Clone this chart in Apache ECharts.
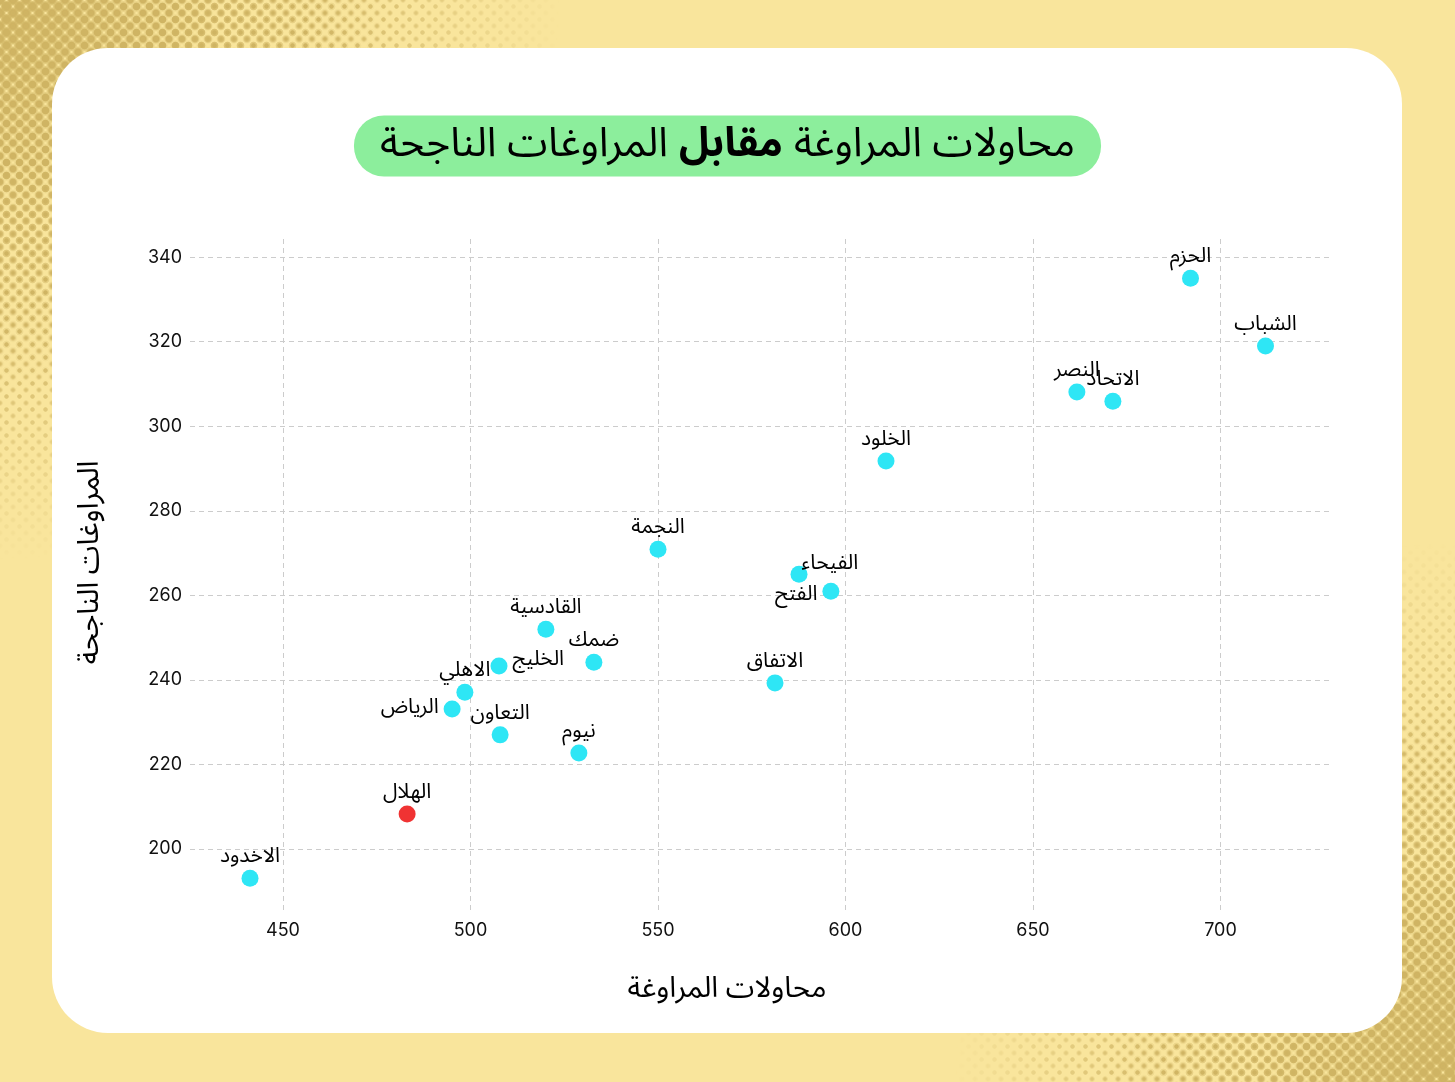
<!DOCTYPE html>
<html>
<head>
<meta charset="utf-8">
<script src="https://cdn.jsdelivr.net/npm/echarts@6/dist/echarts.min.js"></script>
<style>
  html, body { margin:0; padding:0; width:1455px; height:1082px; overflow:hidden; background:#F9E59C; }
  .ht { position:absolute; left:0; top:0; width:1455px; height:1082px; }
  .card { position:absolute; left:52px; top:48px; width:1350px; height:985px; background:#fff; border-radius:56px; }
  #chart { position:absolute; left:0; top:0; width:1455px; height:1082px; }
</style>
</head>
<body>
<div class="ht" id="h1"></div>
<div class="ht" id="h2"></div>
<div class="ht" id="h3"></div>
<div class="ht" id="h4"></div>
<div class="ht" id="h5"></div>
<div class="ht" id="h6"></div>
<div class="card"></div>
<div id="chart"></div>
<script>
// ---- data ----
const teams = ['الحزم','الشباب','النصر','الاتحاد','الخلود','النجمة','الفيحاء','الفتح','القادسية','ضمك','الخليج','الاهلي','الرياض','التعاون','نيوم','الاتفاق','الهلال','الاخدود'];
const dribbleAttempts = [692, 712, 661.7, 671.3, 610.8, 550, 587.6, 596.1, 520.1, 532.9, 507.6, 498.5, 495.1, 507.9, 528.9, 581.2, 483.1, 441.2];
const successfulDribbles = [335, 319, 308.1, 305.9, 291.8, 270.9, 265, 261, 252, 244.2, 243.3, 237.1, 233.1, 227, 222.7, 239.3, 208.3, 193.1];
const highlightTeam = 'الهلال';
const titleParts = ['محاولات المراوغة', 'مقابل', 'المراوغات الناجحة'];
const xAxisName = 'محاولات المراوغة';
const yAxisName = 'المراوغات الناجحة';

// ---- halftone background ----
function halftone(id, r, cx, cy, rx, ry, inner, outer) {
  const el = document.getElementById(id);
  const dot = `radial-gradient(circle, #CFB463 ${r}px, rgba(207,180,99,0) ${r + 0.8}px)`;
  el.style.backgroundImage = dot + ',' + dot;
  el.style.backgroundSize = '13px 13px, 13px 13px';
  el.style.backgroundPosition = '0 0, 6.5px 6.5px';
  const m = `radial-gradient(ellipse ${rx}px ${ry}px at ${cx}px ${cy}px, #000 ${inner}%, rgba(0,0,0,0) ${outer}%)`;
  el.style.webkitMaskImage = m;
  el.style.maskImage = m;
}
halftone('h1', 4.8, 0, 0, 560, 560, 0, 40);
halftone('h2', 3.4, 0, 0, 560, 560, 30, 70);
halftone('h3', 1.8, 0, 0, 560, 560, 55, 100);
halftone('h4', 4.8, 1455, 1082, 500, 540, 0, 40);
halftone('h5', 3.4, 1455, 1082, 500, 540, 30, 70);
halftone('h6', 1.8, 1455, 1082, 500, 540, 55, 100);

// ---- label placement (layout, not data) ----
const labelLayout = {
  'الفيحاء': { position: 'right', distance: 0, offset: [-6, -8] },
  'الفتح': { position: 'left', distance: 5, offset: [0, 6] },
  'الخليج': { position: 'right', distance: 5, offset: [0, -4] },
  'الرياض': { position: 'left', distance: 5, offset: [0, 1] }
};

const arFont = "'Noto Sans Arabic', 'Noto Sans', 'DejaVu Sans', sans-serif";
const numFont = "Inter, 'Noto Sans', sans-serif";

const points = teams.map((t, i) => {
  const item = {
    name: t,
    value: [dribbleAttempts[i], successfulDribbles[i]],
    itemStyle: { color: t === highlightTeam ? '#F03333' : '#2EE6F5', opacity: 1 }
  };
  const lay = labelLayout[t];
  if (lay) item.label = lay;
  return item;
});

const chart = echarts.init(document.getElementById('chart'), null, { renderer: 'canvas' });
chart.setOption({
  backgroundColor: 'transparent',
  animation: false,
  title: {
    text: `{n|${titleParts[2]}}{s| }{b|${titleParts[1]}}{s| }{n|${titleParts[0]}}`,
    left: 'center',
    top: 116,
    backgroundColor: '#8CEE9C',
    borderRadius: 30,
    padding: [14, 26, 6, 26],
    textStyle: {
      rich: {
        n: { fontFamily: arFont, fontSize: 41, lineHeight: 40, color: '#000', fontWeight: 'normal' },
        s: { fontFamily: arFont, fontSize: 41, lineHeight: 40, width: 11 },
        b: { fontFamily: arFont, fontSize: 41, lineHeight: 40, color: '#000', fontWeight: 'bold' }
      }
    }
  },
  grid: { left: 190, right: 125, top: 239, bottom: 170, containLabel: false },
  xAxis: {
    type: 'value',
    min: 425.2,
    max: 729.2,
    minInterval: 50,
    maxInterval: 50,
    name: xAxisName,
    nameLocation: 'middle',
    nameGap: 66,
    nameTextStyle: { fontFamily: arFont, fontSize: 29, color: '#000', padding: [0, 66, 0, 0] },
    axisLine: { show: false },
    axisTick: { show: false },
    axisLabel: { showMinLabel: false, showMaxLabel: false, margin: 10, fontFamily: numFont, fontSize: 18, color: '#111' },
    splitLine: { show: true, showMinLine: false, showMaxLine: false, lineStyle: { color: '#CCCCCC', width: 1, type: [5, 4] } }
  },
  yAxis: {
    type: 'value',
    min: 185.1,
    max: 344.3,
    minInterval: 20,
    maxInterval: 20,
    name: yAxisName,
    nameLocation: 'middle',
    nameGap: 82,
    nameTextStyle: { fontFamily: arFont, fontSize: 29, color: '#000', padding: [0, 0, 0, 26] },
    axisLine: { show: false },
    axisTick: { show: false },
    axisLabel: { showMinLabel: false, showMaxLabel: false, margin: 8, fontFamily: numFont, fontSize: 18, color: '#111' },
    splitLine: { show: true, showMinLine: false, showMaxLine: false, lineStyle: { color: '#CCCCCC', width: 1, type: [5, 4] } }
  },
  series: [{
    type: 'scatter',
    symbolSize: 17,
    data: points,
    label: {
      show: true,
      formatter: p => p.name,
      position: 'top',
      distance: 0,
      fontFamily: arFont,
      fontSize: 21,
      color: '#000'
    },
    emphasis: { disabled: true }
  }]
});
</script>
</body>
</html>
